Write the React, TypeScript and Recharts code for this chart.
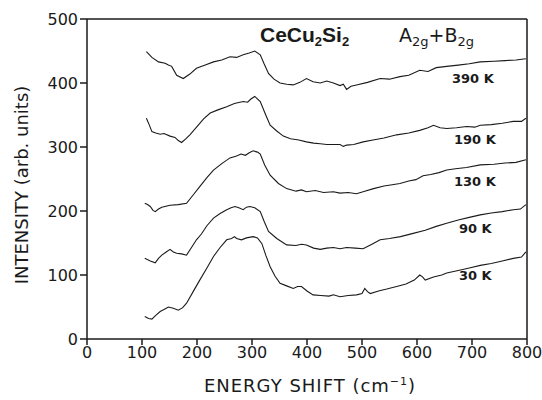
import { LineChart, Line, XAxis, YAxis, ReferenceLine } from 'recharts';

// Raman spectra, energy shift (cm-1) vs intensity (offset curves)
const k390 = [
  [108, 449], [118, 440], [130, 433], [142, 431], [148, 428], [154, 426], [163, 412], [175, 407],
  [187, 414], [199, 423], [215, 428], [230, 433], [245, 436], [260, 441], [272, 440], [284, 444],
  [295, 447], [305, 450], [315, 444], [322, 430], [330, 415], [340, 406], [351, 400], [363, 398],
  [375, 397], [387, 401], [399, 407], [411, 402], [424, 400], [436, 403], [448, 400], [460, 396],
  [466, 398], [472, 390], [480, 395], [490, 397], [510, 401], [533, 407], [550, 406], [569, 410],
  [585, 412], [605, 420], [620, 418], [635, 424], [654, 426], [675, 428], [695, 430], [715, 433],
  [740, 434], [760, 435], [780, 436], [798, 438],
];
const k190 = [
  [108, 345], [113, 335], [118, 324], [125, 322], [133, 320], [140, 321], [151, 317], [160, 315],
  [166, 310], [172, 307], [180, 313], [187, 319], [200, 332], [212, 344], [224, 353], [238, 358],
  [254, 363], [268, 368], [284, 371], [292, 370], [298, 375], [305, 379], [315, 371], [325, 350],
  [333, 334], [345, 325], [357, 317], [370, 313], [385, 311], [399, 308], [412, 306], [424, 305],
  [436, 304], [448, 304], [460, 304], [466, 301], [472, 303], [485, 304], [502, 308], [520, 311],
  [540, 314], [563, 319], [585, 322], [605, 326], [620, 330], [630, 334], [642, 330], [654, 329],
  [672, 330], [690, 332], [705, 331], [715, 334], [735, 335], [755, 337], [775, 340], [790, 340],
  [798, 345],
];
const k130 = [
  [105, 212], [110, 210], [115, 207], [120, 201], [124, 199], [130, 203], [136, 206], [151, 209],
  [166, 210], [181, 212], [193, 225], [205, 238], [218, 252], [230, 264], [245, 274], [260, 283],
  [272, 286], [280, 289], [288, 287], [295, 291], [302, 294], [310, 292], [315, 289], [323, 272],
  [333, 256], [348, 243], [363, 235], [380, 231], [390, 233], [399, 230], [415, 232], [430, 229],
  [448, 230], [460, 228], [475, 229], [490, 227], [505, 231], [521, 235], [540, 239], [555, 241],
  [569, 243], [585, 247], [598, 249], [611, 255], [625, 257], [640, 260], [654, 264], [670, 266],
  [690, 268], [715, 272], [740, 273], [760, 275], [780, 276], [798, 280],
];
const k90 = [
  [105, 126], [115, 122], [124, 119], [130, 126], [136, 131], [144, 136], [151, 140], [157, 136],
  [163, 134], [172, 133], [181, 131], [190, 143], [199, 155], [208, 164], [218, 177], [230, 189],
  [242, 196], [254, 202], [262, 205], [269, 207], [276, 205], [284, 202], [290, 206], [296, 207],
  [305, 205], [315, 199], [322, 184], [330, 168], [345, 157], [363, 147], [380, 146], [390, 148],
  [399, 147], [412, 142], [424, 140], [436, 142], [448, 143], [460, 141], [472, 143], [488, 142],
  [502, 141], [518, 148], [533, 155], [550, 157], [570, 160], [593, 165], [615, 170], [635, 176],
  [654, 181], [675, 186], [695, 190], [715, 194], [735, 197], [755, 199], [775, 202], [788, 203],
  [798, 210],
];
const k30 = [
  [105, 35], [112, 32], [118, 31], [125, 37], [133, 43], [140, 46], [148, 50], [157, 48],
  [166, 45], [174, 49], [181, 56], [193, 74], [205, 92], [218, 111], [230, 129], [242, 143],
  [254, 155], [263, 157], [268, 160], [272, 157], [281, 155], [290, 158], [302, 160], [310, 158],
  [318, 149], [325, 131], [333, 113], [342, 98], [351, 87], [363, 83], [375, 79], [383, 82],
  [390, 82], [400, 75], [411, 69], [425, 68], [440, 67], [448, 69], [460, 66], [475, 68],
  [490, 69], [500, 71], [505, 79], [510, 74], [515, 71], [530, 75], [545, 78], [563, 82],
  [580, 86], [595, 92], [605, 100], [610, 97], [615, 92], [630, 97], [645, 100], [654, 103],
  [675, 107], [695, 111], [715, 115], [735, 118], [755, 122], [775, 126], [790, 128], [798, 136],
];

const series = [k390, k190, k130, k90, k30].map((s) => s.map(([x, y]) => ({ x, y })));
const xTicks = [0, 100, 200, 300, 400, 500, 600, 700, 800];
const yTicks = [0, 100, 200, 300, 400, 500];
const curveLabels = [
  { text: '390 K', x: 452, y: 83 },
  { text: '190 K', x: 454, y: 144 },
  { text: '130 K', x: 454, y: 186 },
  { text: '90 K', x: 459, y: 233 },
  { text: '30 K', x: 459, y: 280 },
];

const ink = '#1a1a1a';
const tickFont = { fontFamily: 'DejaVu Sans', fontSize: 16, fill: ink };

export default function App() {
  return (
    <div style={{ position: 'absolute', left: 0, top: 0, width: 542, height: 400, background: '#fff' }}>
      <LineChart width={542} height={400} margin={{ top: 19, right: 15, bottom: 31, left: 37 }}>
        <XAxis
          type="number"
          dataKey="x"
          domain={[0, 800]}
          ticks={xTicks}
          allowDataOverflow
          stroke={ink}
          strokeWidth={1.5}
          tickSize={6}
          tick={tickFont}
          height={30}
        />
        <YAxis
          type="number"
          dataKey="y"
          domain={[0, 500]}
          ticks={yTicks}
          allowDataOverflow
          stroke={ink}
          strokeWidth={1.5}
          tickSize={7}
          tick={tickFont}
          width={50}
        />
        <ReferenceLine y={500} stroke={ink} strokeWidth={1.5} />
        <ReferenceLine x={800} stroke={ink} strokeWidth={1.5} />
        {series.map((d, i) => (
          <Line
            key={i}
            data={d}
            dataKey="y"
            type="linear"
            stroke={ink}
            strokeWidth={1.1}
            dot={false}
            isAnimationActive={false}
          />
        ))}
      </LineChart>
      <svg width={542} height={400} style={{ position: 'absolute', left: 0, top: 0, pointerEvents: 'none' }}>
        <text x={260} y={42} fontFamily="Liberation Sans" fontWeight="bold" fontSize={21} fill={ink}>
          CeCu<tspan fontSize={13} dy={4}>2</tspan><tspan dy={-4}>Si</tspan><tspan fontSize={13} dy={4}>2</tspan>
        </text>
        <text x={399} y={42} fontFamily="DejaVu Sans" fontSize={19} fill={ink}>
          A<tspan fontSize={13} dy={4}>2g</tspan><tspan dy={-4}>+B</tspan><tspan fontSize={13} dy={4}>2g</tspan>
        </text>
        {curveLabels.map((l) => (
          <text key={l.text} x={l.x} y={l.y} fontFamily="DejaVu Sans" fontWeight="bold" fontSize={13} fill={ink}>
            {l.text}
          </text>
        ))}
        <text x={310} y={392} textAnchor="middle" fontFamily="DejaVu Sans" fontSize={18} letterSpacing={1} fill={ink}>
          ENERGY SHIFT (cm<tspan fontSize={11} dy={-7}>−1</tspan><tspan dy={7}>)</tspan>
        </text>
        <text
          x={23}
          y={185}
          transform="rotate(-90 23 185)"
          textAnchor="middle"
          dominantBaseline="middle"
          fontFamily="DejaVu Sans"
          fontSize={18}
          fill={ink}
        >
          INTENSITY (arb. units)
        </text>
      </svg>
    </div>
  );
}
